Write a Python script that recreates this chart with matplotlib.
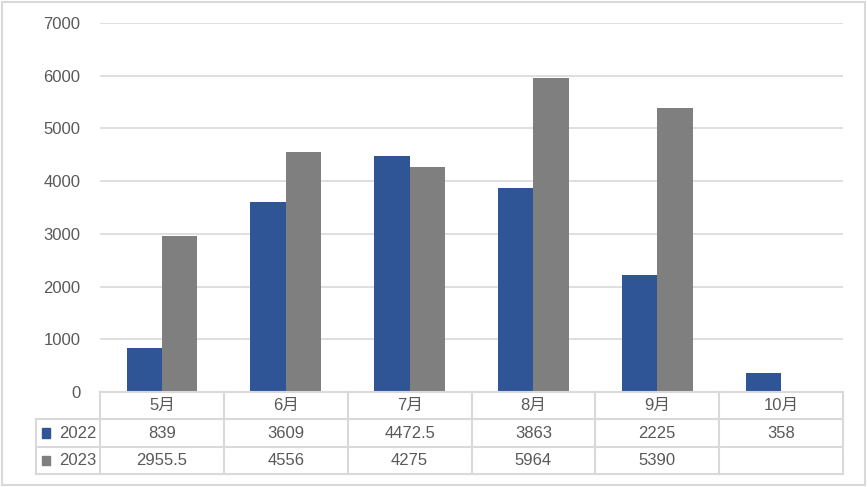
import numpy as np
import matplotlib.pyplot as plt
from matplotlib.patches import Rectangle

plt.rcParams['font.family'] = ['Liberation Sans', 'Noto Sans CJK SC', 'DejaVu Sans']

months = ['5月', '6月', '7月', '8月', '9月', '10月']
series = ['2022', '2023']
v2022 = [839, 3609, 4472.5, 3863, 2225, 358]
v2023 = [2955.5, 4556, 4275, 5964, 5390, None]
colors = ['#2F5597', '#7F7F7F']
yticks = [0, 1000, 2000, 3000, 4000, 5000, 6000, 7000]

W, H = 867, 487
grid_c = '#D9D9D9'
txt_c = '#595959'
fs = 12

fig = plt.figure(figsize=(W / 100, H / 100), dpi=100)
fig.patch.set_facecolor('white')
fig.patches.append(Rectangle((2 / W, 2 / H), 1 - 4 / W, 1 - 4 / H, transform=fig.transFigure,
                             fill=False, edgecolor=grid_c, linewidth=1.5))

left, right = 100 / W, 843 / W
ax = fig.add_axes([left, (H - 392) / H, right - left, (392 - 23) / H])

x = np.arange(len(months))
bw = 1 / 3.5
for i, (vals, c) in enumerate(zip([v2022, v2023], colors)):
    xs = [xi for xi, v in zip(x, vals) if v is not None]
    ys = [v for v in vals if v is not None]
    ax.bar(np.array(xs) + (i - 0.5) * bw, ys, bw, color=c, zorder=3)

ax.set_xlim(-0.5, len(months) - 0.5)
ax.set_ylim(0, 7000)
ax.set_yticks(yticks)
ax.set_yticklabels([str(t) for t in yticks], color=txt_c, fontsize=fs)
ax.tick_params(axis='y', length=0, pad=14)
ax.set_xticks([])
ax.grid(axis='y', color=grid_c, linewidth=1.2, zorder=0)
for s in ax.spines.values():
    s.set_visible(False)

# data table under the chart
tax = fig.add_axes([left, (H - 474) / H, right - left, (474 - 392) / H])
tax.set_xlim(-0.5, len(months) - 0.5)
tax.set_ylim(3, 0)
tax.axis('off')
lab_left = -0.5 - (100 - 36) / ((843 - 100) / len(months))
lw = 1.5
tax.plot([-0.5, len(months) - 0.5], [0, 0], color=grid_c, lw=lw, clip_on=False)
for r in [1, 2, 3]:
    tax.plot([lab_left, len(months) - 0.5], [r, r], color=grid_c, lw=lw, clip_on=False)
for b in np.arange(-0.5, len(months), 1.0):
    tax.plot([b, b], [0, 3], color=grid_c, lw=lw, clip_on=False)
tax.plot([lab_left, lab_left], [1, 3], color=grid_c, lw=lw, clip_on=False)

for xi, m in zip(x, months):
    tax.text(xi, 0.5, m, ha='center', va='center', color=txt_c, fontsize=fs)
for r, (name, vals, c) in enumerate(zip(series, [v2022, v2023], colors), start=1):
    tax.add_patch(Rectangle((lab_left + 0.05, r + 0.33), 0.065, 0.34, color=c, clip_on=False))
    tax.text(-0.53, r + 0.5, name, ha='right', va='center', color=txt_c, fontsize=fs)
    for xi, v in zip(x, vals):
        if v is None:
            continue
        s = ('%g' % v)
        tax.text(xi, r + 0.5, s, ha='center', va='center', color=txt_c, fontsize=fs)

fig.savefig('out.png', dpi=100)
